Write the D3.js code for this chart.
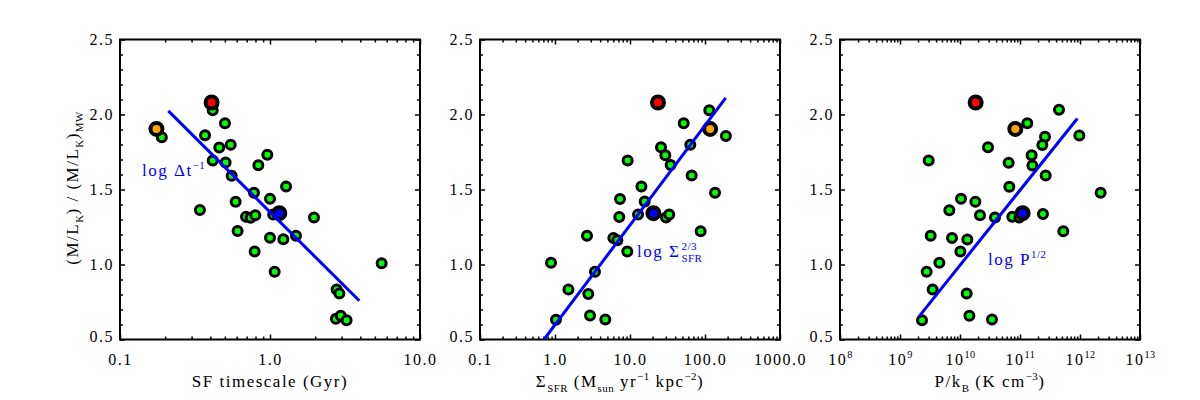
<!DOCTYPE html>
<html>
<head>
<meta charset="utf-8">
<script src="https://cdn.jsdelivr.net/npm/d3@7"></script>
<style>
  body { margin: 0; background: #fff; }
  text { font-family: "Liberation Serif", "Times New Roman", serif; letter-spacing: 1.5px; fill: #000; }
  .tick line { stroke: #000; stroke-width: 1.5; }
</style>
</head>
<body>
<script>

// y axis shared by all three panels
var yTicks = [0.5, 1.0, 1.5, 2.0, 2.5];
var yMinor = [0.6, 0.7, 0.8, 0.9, 1.1, 1.2, 1.3, 1.4, 1.6, 1.7, 1.8, 1.9, 2.1, 2.2, 2.3, 2.4];

// the three highlighted galaxies: red, orange, blue
var specialMl = [2.08, 1.904, 1.342];

// panel 1 - SF timescale (Gyr)
var tauX = [0.19, 0.415, 0.501, 0.369, 0.459, 0.547, 0.415, 0.506, 0.555, 0.96, 0.836, 0.782, 1.28, 1.0, 0.341, 0.59, 0.692,
            0.743, 0.798, 1.05, 0.608, 1.0, 1.227, 1.49, 1.965, 0.79, 1.074, 5.55, 2.78, 2.9, 2.75, 2.96, 3.24];
var tauY = [1.849, 2.029, 1.942, 1.862, 1.78, 1.798, 1.693, 1.68, 1.591, 1.731, 1.662, 1.478, 1.52, 1.438, 1.364, 1.418, 1.318,
            1.311, 1.329, 1.333, 1.224, 1.178, 1.169, 1.191, 1.313, 1.087, 0.951, 1.009, 0.833, 0.807, 0.638, 0.658, 0.629];
var tauSpecial = [0.408, 0.175, 1.154];
var tauFitX = [0.21, 3.94], tauFitY = [2.024, 0.758];
var tauTicks = [0.1, 1, 10];

// panel 2 - Sigma SFR
var sfrX = [114, 52, 190, 25.9, 29.6, 34.8, 63.7, 9.3, 66.4, 136, 14.2, 7.36, 15.7, 7.2, 12.8, 30.2, 33.4, 87.5, 2.67, 6.0,
            6.78, 9.2, 0.885, 3.41, 1.51, 2.78, 1.03, 2.93, 4.69];
var sfrY = [2.029, 1.942, 1.856, 1.782, 1.729, 1.664, 1.798, 1.693, 1.593, 1.478, 1.52, 1.436, 1.42, 1.316, 1.333, 1.313, 1.333,
            1.222, 1.191, 1.176, 1.162, 1.087, 1.011, 0.951, 0.833, 0.804, 0.631, 0.66, 0.633];
var sfrSpecial = [23.6, 117, 20.5];
var sfrFitX = [0.713, 189], sfrFitY = [0.5, 2.111];
var sfrTicks = [0.1, 1, 10, 100, 1000];

// panel 3 - pressure, stored as log10(P/kB)
var logP = [11.65, 11.122, 11.989, 11.417, 11.372, 10.467, 11.194, 11.206, 9.478, 10.811, 11.428, 10.822, 12.344, 10.017,
            10.256, 9.822, 10.333, 10.583, 10.872, 10.989, 11.383, 11.722, 9.511, 9.867, 10.122, 10.006, 9.656, 9.444, 9.544,
            10.111, 9.367, 10.156, 10.533];
var pY = [2.031, 1.942, 1.86, 1.851, 1.796, 1.782, 1.729, 1.66, 1.693, 1.678, 1.593, 1.518, 1.478, 1.438, 1.418, 1.362, 1.329,
          1.313, 1.318, 1.313, 1.336, 1.222, 1.191, 1.176, 1.167, 1.087, 1.011, 0.951, 0.833, 0.807, 0.629, 0.658, 0.633];
var logPSpecial = [10.261, 10.922, 11.044];
var logPFit = [9.322, 11.956], pFitY = [0.656, 1.973];
var pExponents = [8, 9, 10, 11, 12, 13];

var specialColors = ["#ff0000", "#ffa500", "#0000ff"];
var plotTop = 39.5, plotH = 300, plotW = 300;

var svg = d3.select("body").append("svg")
    .attr("width", 1200)
    .attr("height", 400);

// write text with sub/superscript pieces: parts = [[string, "sup"|"sub"|null], ...]
function rich(sel, parts, size) {
  var shift = 0;
  parts.forEach(function(p) {
    var target = p[1] == "sup" ? -0.42 * size : p[1] == "sub" ? 0.28 * size : 0;
    sel.append("tspan")
      .attr("dy", target - shift)
      .style("font-size", p[1] ? (size * 0.64) + "px" : size + "px")
      .style("letter-spacing", p[1] ? "0.5px" : null)
      .text(p[0]);
    shift = target;
  });
}

function minorLog(lo, hi) {
  var out = [];
  for (var e = lo; e < hi; e++)
    for (var k = 2; k <= 9; k++) out.push(k * Math.pow(10, e));
  return out;
}

var y = d3.scaleLinear().domain([0.5, 2.5]).range([plotTop + plotH, plotTop]);

function panel(left, xDomain, majors, minors, fmt) {
  var x = d3.scaleLog().domain(xDomain).range([left, left + plotW]);
  var g = svg.append("g");

  // ticks on all four sides, pointing inward
  var sides = [
    [d3.axisBottom(x), "translate(0," + (plotTop + plotH) + ")", majors, minors, fmt],
    [d3.axisTop(x), "translate(0," + plotTop + ")", majors, minors, null],
    [d3.axisLeft(y), "translate(" + left + ",0)", yTicks, yMinor, d3.format(".1f")],
    [d3.axisRight(y), "translate(" + (left + plotW) + ",0)", yTicks, yMinor, null]
  ];
  sides.forEach(function(s) {
    var ax = g.append("g").attr("transform", s[1])
      .call(s[0].tickValues(s[3]).tickSize(-3).tickFormat(""));
    ax.select(".domain").remove();
    ax.selectAll("text").remove();
    var axM = g.append("g").attr("class", "major").attr("transform", s[1])
      .call(s[0].tickValues(s[2]).tickSize(-5).tickFormat(s[4] || ""));
    axM.select(".domain").remove();
    if (!s[4]) axM.selectAll("text").remove();
    axM.selectAll("text").attr("fill", "#000").style("font-size", "16px");
    axM.attr("font-family", null).attr("font-size", null);
    ax.attr("font-family", null);
  });

  g.selectAll("g.major").each(function(d, i) {
    var t = d3.select(this).selectAll("text");
    if (i == 0) t.attr("y", 25.5).attr("dy", 0);
    if (i == 2) t.attr("x", -6).attr("dy", function(v) { return v == 0.5 ? "0.1em" : "0.34em"; });
  });

  g.append("rect")
    .attr("x", left).attr("y", plotTop)
    .attr("width", plotW).attr("height", plotH)
    .attr("fill", "none")
    .attr("stroke", "#000")
    .attr("stroke-width", 2);

  return { g: g, x: x };
}

function points(p, xs, ys, sx) {
  var clip = "clip" + Math.round(p.x.range()[0]);
  p.g.append("clipPath").attr("id", clip).append("rect")
    .attr("x", p.x.range()[0]).attr("y", plotTop).attr("width", plotW).attr("height", plotH);

  p.g.selectAll(".dot")
      .data(d3.range(xs.length))
    .enter().append("circle")
      .attr("class", "dot")
      .attr("r", 4.5)
      .attr("cx", function(i) { return p.x(xs[i]); })
      .attr("cy", function(i) { return y(ys[i]); })
      .style("fill", "#00ff00")
      .style("stroke", "#000")
      .style("stroke-width", 3);

  p.g.selectAll(".big")
      .data(d3.range(sx.length))
    .enter().append("circle")
      .attr("class", "big")
      .attr("r", 6)
      .attr("cx", function(i) { return p.x(sx[i]); })
      .attr("cy", function(i) { return y(specialMl[i]); })
      .style("fill", function(i) { return specialColors[i]; })
      .style("stroke", "#000")
      .style("stroke-width", 4);
  return clip;
}

function fit(p, fx, fy, clip) {
  p.g.append("path")
    .datum(d3.range(fx.length))
    .attr("clip-path", "url(#" + clip + ")")
    .attr("d", d3.line().x(function(i) { return p.x(fx[i]); }).y(function(i) { return y(fy[i]); }))
    .attr("fill", "none")
    .attr("stroke", "#0000ff")
    .attr("stroke-width", 3);
}

// ---- panel 1
var p1 = panel(120, [0.1, 10], tauTicks, minorLog(-1, 1), d3.format(".1f"));
var c1 = points(p1, tauX, tauY, tauSpecial);
fit(p1, tauFitX, tauFitY, c1);
rich(p1.g.append("text").attr("x", 142).attr("y", 176).style("fill", "#0000ff"),
     [["log \u0394t", null], ["\u22121", "sup"]], 17);

// ---- panel 2
var p2 = panel(480, [0.1, 1000], sfrTicks, minorLog(-1, 3), d3.format(".1f"));
var c2 = points(p2, sfrX, sfrY, sfrSpecial);
fit(p2, sfrFitX, sfrFitY, c2);
var lab2 = p2.g.append("text").attr("x", 637).attr("y", 257).style("fill", "#0000ff").style("font-size", "17px")
    .text("log \u03a3");
var w2 = lab2.node().getComputedTextLength();
p2.g.append("text").attr("x", 637 + w2 + 1).attr("y", 250).style("fill", "#0000ff")
    .style("font-size", "11px").style("letter-spacing", "0.5px").text("2/3");
p2.g.append("text").attr("x", 637 + w2 + 1).attr("y", 262).style("fill", "#0000ff")
    .style("font-size", "11px").style("letter-spacing", "0.5px").text("SFR");

// ---- panel 3
var p3 = panel(840, [1e8, 1e13], pExponents.map(function(e) { return Math.pow(10, e); }), minorLog(8, 13),
               function() { return "10"; });
var c3 = points(p3, logP.map(function(v) { return Math.pow(10, v); }), pY,
                logPSpecial.map(function(v) { return Math.pow(10, v); }));
fit(p3, logPFit.map(function(v) { return Math.pow(10, v); }), pFitY, c3);
rich(p3.g.append("text").attr("x", 988).attr("y", 265).style("fill", "#0000ff"),
     [["log P", null], ["1/2", "sup"]], 17);

// panel 3 tick labels as powers of ten
p3.g.select("g.major").selectAll(".tick text").each(function(v, i) {
  var t = d3.select(this).text(null).attr("text-anchor", "middle");
  rich(t, [["10", null], [String(pExponents[i]), "sup"]], 16);
});

// ---- axis titles
rich(svg.append("text").attr("x", 270).attr("y", 387).attr("text-anchor", "middle"),
     [["SF timescale (Gyr)", null]], 17);
rich(svg.append("text").attr("x", 620).attr("y", 387).attr("text-anchor", "middle"),
     [["\u03a3", null], ["SFR", "sub"], [" (M", null], ["sun", "sub"], [" yr", null], ["\u22121", "sup"],
      [" kpc", null], ["\u22122", "sup"], [")", null]], 17);
rich(svg.append("text").attr("x", 990).attr("y", 387).attr("text-anchor", "middle"),
     [["P/k", null], ["B", "sub"], [" (K cm", null], ["\u22123", "sup"], [")", null]], 17);
rich(svg.append("text").attr("transform", "translate(78,188) rotate(-90)").attr("text-anchor", "middle"),
     [["(M/L", null], ["K", "sub"], [") / (M/L", null], ["K", "sub"], [")", null], ["MW", "sub"]], 17);

</script>
</body>
</html>
